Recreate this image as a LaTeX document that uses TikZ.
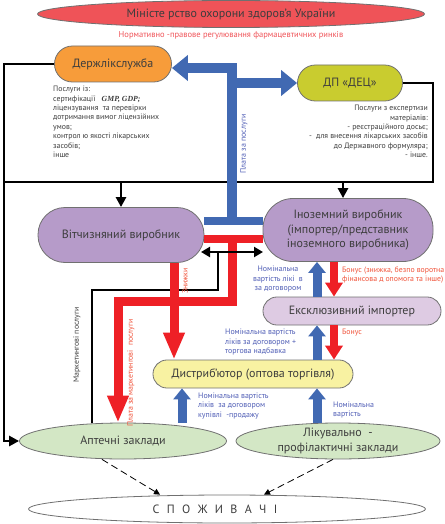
\documentclass[tikz,border=0pt]{standalone}
\usepackage{fontspec}
\setmainfont{PT Sans}
\newfontfamily\gmpserif{Liberation Serif}
\usetikzlibrary{positioning,shapes.geometric,arrows.meta}

\definecolor{ministryred}{HTML}{EF5358}
\definecolor{serviceorange}{HTML}{F79C3A}
\definecolor{decolive}{HTML}{C9CC2F}
\definecolor{makerviolet}{HTML}{B69BC9}
\definecolor{importlilac}{HTML}{DECBE3}
\definecolor{distyellow}{HTML}{F8F2A2}
\definecolor{shopgreen}{HTML}{D3E7C5}
\definecolor{flowblue}{HTML}{4169B2}
\definecolor{flowred}{HTML}{EE2026}
\definecolor{labelblue}{HTML}{4F5DB5}
\definecolor{labelred}{HTML}{F0533A}
\definecolor{textgray}{HTML}{3D3D3D}
\definecolor{edgegray}{HTML}{707070}

\tikzset{
  stadium/.style={rectangle, rounded corners=#1, draw=edgegray, line width=0.8pt,
    text=textgray, font=\fontsize{12}{14.5}\selectfont, align=center, inner sep=0pt},
  oval/.style={ellipse, draw=edgegray, line width=0.8pt,
    text=textgray, font=\fontsize{12}{14.5}\selectfont, align=center, inner sep=0pt},
  note/.style={text=textgray, font=\fontsize{7.8}{9.4}\selectfont, inner sep=0pt},
  bluenote/.style={text=labelblue, font=\fontsize{7.9}{9.7}\selectfont, inner sep=0pt},
  rednote/.style={text=labelred, font=\fontsize{7.8}{9}\selectfont, inner sep=0pt},
  bline/.style={draw=black, line width=2.5pt},
  blinearrow/.style={bline, -{Triangle[width=10pt,length=10pt]}},
  payblue/.style={draw=flowblue, line width=10pt, -{Triangle[width=25pt,length=16pt]}},
  bluebar/.style={draw=flowblue, line width=8pt},
  redbar/.style={draw=flowred, line width=8pt},
  payred/.style={draw=flowred, line width=9pt, -{Triangle[width=20pt,length=27pt]}},
  upblue/.style={draw=flowblue, line width=9pt, -{Triangle[width=17pt,length=11pt]}},
  downred/.style={draw=flowred, line width=8pt, -{Triangle[width=17pt,length=14pt]}},
  sale/.style={draw=black, line width=0.8pt, dash pattern=on 7pt off 4pt,
    -{Triangle[width=6pt,length=6pt]}}
}

\begin{document}
\begin{tikzpicture}[x=1pt,y=-1pt]
    \useasboundingbox (0,0) rectangle (444,524);

    % Nodes

    \node[oval, fill=ministryred, minimum width=387pt, minimum height=27pt] (moz) at (231,14) {Міністе рство охорони здоров'я України};
    \node[rednote, text=ministryred, font=\fontsize{8.5}{10}\selectfont, below=3pt of moz] (norm) {Нормативно -правове регулювання фармацевтичних ринків};
    \node[stadium=17.9pt, fill=serviceorange, minimum width=117pt, minimum height=36pt] (dls) at (113,64) {Держлікслужба};
    \node[stadium=17.9pt, fill=decolive, minimum width=105pt, minimum height=36pt] (dec) at (350,83) {ДП «ДЕЦ»};
    \node[note, align=left, anchor=north west] (dlsnote) at (53,86) {Послуги із:\\сертифікації \ \ {\gmpserif\bfseries\itshape GMP, GDP;}\\ліцензування \ та перевірки\\дотримання вимог ліцензійних\\умов;\\контрол ю якості лікарських\\засобів;\\інше};
    \node[note, align=right, anchor=north east] (decnote) at (428,105) {Послуги з експертизи\\матеріалів:\\- реєстраційного досьє;\\- \ для внесення лікарських засобів\\до Державного формуляра;\\- інше.};
    \node[stadium=27pt, fill=makerviolet, minimum width=166pt, minimum height=55pt] (home) at (121,235) {Вітчизняний виробник};
    \node[stadium=30pt, fill=makerviolet, minimum width=170pt, minimum height=63pt] (foreign) at (348,230) {Іноземний виробник\\(імпортер/представник\\іноземного виробника)};
    \node[stadium=13.9pt, fill=importlilac, minimum width=178pt, minimum height=28pt] (excl) at (352,311) {Ексклюзивний імпортер};
    \node[stadium=13.9pt, fill=distyellow, minimum width=200pt, minimum height=28pt] (dist) at (253,374) {Дистриб’ютор (оптова торгівля)};
    \node[oval, fill=shopgreen, minimum width=207pt, minimum height=36pt] (pharm) at (123,441) {Аптечні заклади};
    \node[oval, fill=shopgreen, minimum width=204pt, minimum height=36pt] (clinic) at (338,441) {Лікувально~ -\\профілактичні заклади};
    \node[oval, fill=white, minimum width=397pt, minimum height=28pt] (cons) at (227,509) {\spaceskip=7.4pt С П О Ж И В А Ч І\hspace{24pt}};

    \coordinate (lc) at (4,441);
    \coordinate (rc) at (433,182);
    \coordinate (paytop) at (232,68);
    \coordinate (bluet) at (232,221);
    \coordinate (redt) at (232,239);
    \coordinate (swap) at (232,252);
    \coordinate (mkt) at (118,301);
    \coordinate (mktblack) at (92,290);

    % Edges

    \draw[blinearrow] (dls.west) -| (lc) -- (pharm.west);
    \draw[bline] (dec.east) -| (rc) -- (rc -| lc);
    \draw[blinearrow] (home.north |- rc) -- (home.north);
    \draw[blinearrow] ([xshift=-5pt]foreign.north |- rc) -- ([xshift=-5pt]foreign.north);

    \draw[bluebar] (bluet -| home.east) -- (bluet -| foreign.west);
    \draw[redbar] (redt -| home.east) -- (redt -| foreign.west);
    \draw[payblue] (bluet) -- (paytop) -- (dls.east |- paytop);
    \draw[payblue] (bluet |- dec.west) -- (dec.west);

    \draw[bline] ([xshift=-14pt]swap) |- (mktblack) -- (mktblack |- pharm.north);
    \draw[payred] (redt) |- (mkt) -- (mkt |- pharm.north);
    \draw[payred] ([xshift=53pt]home.south) -- ([xshift=-79pt]dist.north);
    \draw[bline, {Triangle[width=10pt,length=9pt]}-{Triangle[width=10pt,length=9pt]}] ([xshift=-31pt]swap) -- ([xshift=31pt]swap);

    \draw[upblue] ([xshift=-35pt]excl.north) -- ([xshift=-31pt]foreign.south);
    \draw[downred] ([xshift=-14pt]foreign.south) -- ([xshift=-18pt]excl.north);
    \draw[upblue] ([xshift=64pt]dist.north) -- ([xshift=-35pt]excl.south);
    \draw[downred] ([xshift=-18pt]excl.south) -- ([xshift=81pt]dist.north);
    \draw[upblue] ([xshift=59pt]pharm.north) -- ([xshift=-71pt]dist.south);
    \draw[upblue] ([xshift=-21pt]clinic.north) -- ([xshift=64pt]dist.south);

    \draw[sale] ([xshift=-21pt]pharm.south) -- ([xshift=-67pt]cons.north);
    \draw[sale] ([xshift=-5pt]clinic.south) -- ([xshift=37pt]cons.north);

    % Labels

    \node[bluenote, rotate=90] (paylabel) at (244,144) {Плата за послуги};
    \node[note, rotate=90] (mktlabel) at (77,345) {Маркетингові послуги};
    \node[rednote, rotate=90] (mktpay) at (131,373) {Плата за маркетингові \ послуги};
    \node[rednote, rotate=90] (discount) at (185,281) {Знижки};
    \node[bluenote, align=center] (nomfor) at (278,279) {Номінальна\\вартість лікі \ в\\за договором};
    \node[rednote, align=left, anchor=west] (bonus) at (342,275) {Бонус (знижка, безпо воротна\\фінансова д опомога та інше)};
    \node[rednote, anchor=west] (bonusdist) at (342,333) {Бонус};
    \node[bluenote, align=left, anchor=west] (nomdist) at (225,342) {Номінальна вартість\\ліків за договором +\\торгова надбавка};
    \node[bluenote, align=left, anchor=west] (nompharm) at (198,406) {Номінальна вартість\\ліків \ за договором\\купівлі \ -продажу};
    \node[bluenote, align=left, anchor=west] (nomclinic) at (333,410) {Номінальна\\вартість};

\end{tikzpicture}
\end{document}
